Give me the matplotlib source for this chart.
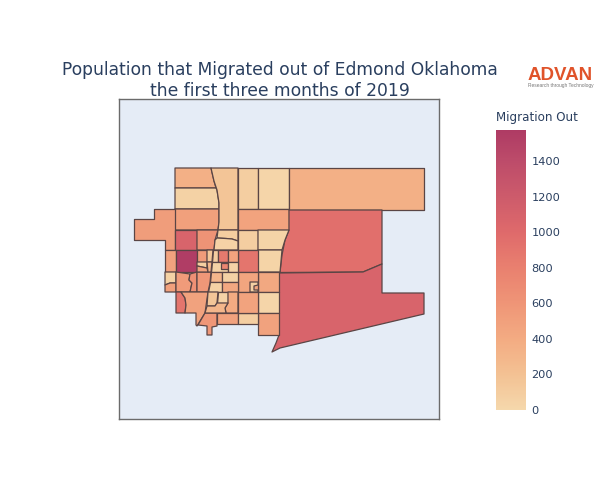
import matplotlib
matplotlib.use("Agg")
import matplotlib.pyplot as plt
from matplotlib.collections import PolyCollection
from matplotlib.colors import LinearSegmentedColormap, Normalize
from matplotlib.cm import ScalarMappable

title_text = "Population that Migrated out of Edmond Oklahoma\nthe first three months of 2019"
colorbar_title = "Migration Out"
colorbar_ticks = [0, 200, 400, 600, 800, 1000, 1200, 1400]
value_max = 1575

# colour ramp
ramp_values = [0, 200, 400, 600, 800, 1000, 1200, 1400, 1575]
ramp_colors = ["#f5d8ac", "#f3c193", "#f3ab82", "#ef9577", "#e9806f",
               "#df6a6b", "#cd5b6b", "#bd4c6a", "#ae3b64"]

# census tracts: migration out value and outline, in map units
tract_values = [
    360, 60, 500, 530, 170, 90, 30, 470, 360, 950, 1080,
    1080, 620, 100, 50, 90, 40, 40, 900, 430, 30, 480,
    480, 1550, 60, 500, 550, 650, 580, 900, 480, 580, 480, 90,
    460, 70, 550, 150, 80, 480, 300, 100, 850, 470, 60, 750, 50,
    300, 60, 60, 430, 160, 50, 400, 300, 470,
]
tract_outlines = [
    [(175, 168), (211, 168), (214, 181), (216, 188), (175, 188)],
    [(175, 188), (216, 188), (217, 190), (219, 203), (219, 209), (175, 209)],
    [(175, 209), (219, 209), (219, 222), (218, 230), (175, 230)],
    [(175, 209), (154, 209), (154, 219), (134, 219), (134, 240), (165, 240), (165, 250), (175, 250)],
    [(211, 168), (238, 168), (238, 230), (218, 230), (219, 222), (219, 203), (217, 190), (214, 181)],
    [(238, 168), (258, 168), (258, 209), (238, 209)],
    [(258, 168), (289, 168), (289, 209), (258, 209)],
    [(238, 209), (289, 209), (289, 230), (238, 230)],
    [(289, 168), (424, 168), (424, 210), (289, 210)],
    [(289, 210), (382, 210), (382, 264), (363, 272), (280, 272.5), (282, 255), (285, 240), (289, 230)],
    [(279, 273), (363, 272), (382, 264), (382, 293), (424, 293), (424, 314), (280, 348), (272, 352), (276, 343), (279, 335)],
    [(175, 230), (197, 230), (197, 250), (175, 250)],
    [(197, 230), (218, 230), (215, 240), (214, 250), (197, 250)],
    [(218, 230), (238, 230), (238, 241), (232, 239), (226, 238.5), (217, 238)],
    [(217, 238), (226, 238.5), (232, 239), (238, 241), (238, 250), (214, 250), (215, 240)],
    [(238, 230), (258, 230), (258, 250), (238, 250)],
    [(258, 230), (289, 230), (285, 240), (282, 250), (258, 250)],
    [(258, 250), (282, 250), (280, 272), (258, 272)],
    [(238, 250), (258, 250), (258, 272), (238, 272)],
    [(258, 272), (279, 272), (279, 292), (258, 292)],
    [(258, 292), (279, 292), (279, 313), (258, 313)],
    [(258, 313), (279, 313), (279, 335), (258, 335)],
    [(165, 250), (176, 250), (176, 272), (165, 272)],
    [(176, 250), (197, 250), (197, 272), (176, 272)],
    [(165, 272), (176, 272), (176, 283), (170, 283), (165, 285)],
    [(165, 285), (170, 283), (176, 283), (176, 292), (165, 292)],
    [(176, 272), (190, 274), (189, 280), (192, 283), (190, 292), (176, 292)],
    [(190, 274), (197, 272), (197, 292), (190, 292), (192, 283), (189, 280)],
    [(197, 272), (211, 272), (210, 283), (208, 292), (197, 292)],
    [(176, 292), (181, 292), (185, 298), (186, 305), (185, 313), (176, 313)],
    [(181, 292), (208, 292), (205, 313), (197, 326), (196, 325), (196, 313), (185, 313), (186, 305), (185, 298)],
    [(205, 313), (217, 313), (217, 326), (212, 327), (212, 335), (207, 335), (207, 326), (198, 325)],
    [(217, 313), (238, 313), (238, 324), (217, 324)],
    [(238, 313), (258, 313), (258, 324), (238, 324)],
    [(238, 272), (258, 272), (258, 292), (238, 292)],
    [(250, 282), (258, 282), (258, 285), (254, 286), (254, 290), (258, 290), (258, 292), (250, 292)],
    [(197, 250), (207, 250), (207, 262), (197, 262)],
    [(207, 250), (213, 250), (212, 262), (207, 262)],
    [(197, 262), (207, 262), (207, 268), (197, 266)],
    [(197, 266), (207, 268), (208, 272), (197, 272)],
    [(207, 262), (212, 262), (211, 272), (208, 272)],
    [(213, 250), (218, 250), (218, 262), (212, 262)],
    [(218, 250), (228, 250), (228, 262), (218, 262)],
    [(228, 250), (238, 250), (238, 262), (228, 262)],
    [(212, 262), (228, 262), (228, 272), (211, 272)],
    [(221, 263), (228, 263), (228, 269), (221, 269)],
    [(228, 262), (238, 262), (238, 272), (228, 272)],
    [(211, 272), (222, 272), (222, 282), (210, 282)],
    [(210, 282), (222, 282), (222, 292), (208, 292)],
    [(222, 272), (238, 272), (238, 282), (222, 282)],
    [(222, 282), (238, 282), (238, 292), (222, 292)],
    [(208, 292), (218, 292), (217, 303), (215, 306), (207, 306)],
    [(218, 292), (228, 292), (228, 303), (217, 303)],
    [(228, 292), (238, 292), (238, 313), (226, 313), (225, 308), (228, 303)],
    [(207, 306), (215, 306), (217, 303), (228, 303), (225, 308), (226, 313), (205, 313)],
    [(238, 292), (258, 292), (258, 313), (238, 313)],
]

plt.rcParams['font.family'] = ['DejaVu Sans']
text_color = "#2a3f5f"

cmap = LinearSegmentedColormap.from_list(
    "migration", [(v / value_max, c) for v, c in zip(ramp_values, ramp_colors)])
norm = Normalize(0, value_max)

fig = plt.figure(figsize=(6, 5), dpi=100)

# map panel
ax = fig.add_axes([119 / 600, 1 - 419 / 500, 320 / 600, 320 / 500])
ax.set_xlim(119, 439)
ax.set_ylim(419, 99)
ax.set_facecolor("#e5ecf6")
ax.set_xticks([])
ax.set_yticks([])
for spine in ax.spines.values():
    spine.set_color("#6b6b6b")
    spine.set_linewidth(1)

tracts = PolyCollection(tract_outlines, array=tract_values, cmap=cmap, norm=norm,
                        edgecolors="#5a4545", linewidths=0.9)
ax.add_collection(tracts)

# colorbar
cax = fig.add_axes([496 / 600, 1 - 410 / 500, 30 / 600, 280 / 500])
cbar = fig.colorbar(ScalarMappable(norm=norm, cmap=cmap), cax=cax)
cbar.set_ticks(colorbar_ticks)
cbar.ax.tick_params(length=0, pad=4, labelsize=8.2, labelcolor=text_color)
cbar.outline.set_visible(False)
fig.text(496 / 600, 1 - 118 / 500, colorbar_title, color=text_color, fontsize=8.6,
         ha="left", va="center")

# title
fig.text(279.5 / 600, 1 - 80.5 / 500, title_text, color=text_color, fontsize=12.3,
         ha="center", va="center", linespacing=1.22)

# logo
fig.text(560.5 / 600, 1 - 75 / 500, "ADVAN", color="#e0532a", fontsize=13.5,
         ha="center", va="center", family="Liberation Sans", weight="bold")
fig.text(560.5 / 600, 1 - 86 / 500, "Research through Technology", color="#777777",
         fontsize=3.5, ha="center", va="center", family="Liberation Sans")

fig.savefig("out.png", dpi=100)
